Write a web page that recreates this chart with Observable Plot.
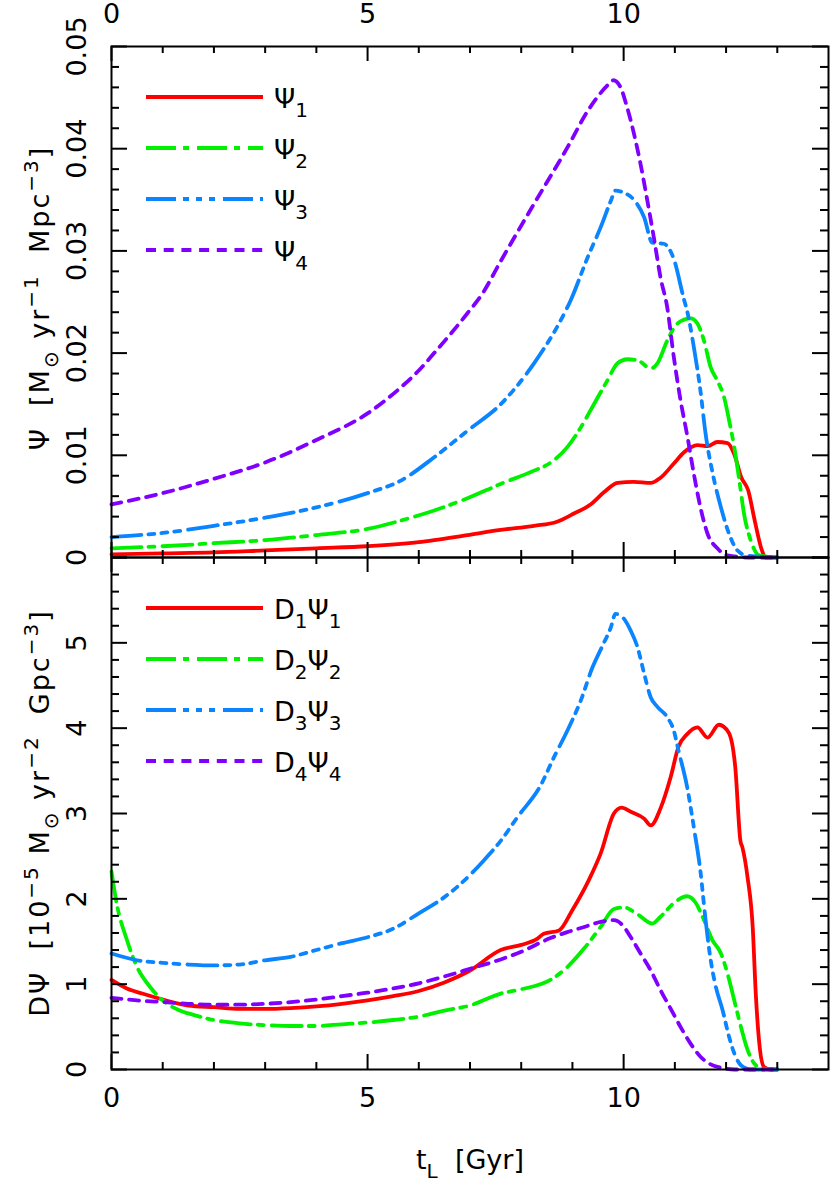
<!DOCTYPE html>
<html><head><meta charset="utf-8">
<script src="https://cdn.jsdelivr.net/npm/d3@7"></script>
<script src="https://cdn.jsdelivr.net/npm/@observablehq/plot@0.6"></script>
<style>
html,body{margin:0;padding:0;background:#fff;overflow:hidden}
#chart{position:relative;width:830px;height:1186px}
#chart svg.plot-panel{display:block;overflow:visible}
#overlay{position:absolute;left:0;top:0}
</style></head><body><div id="chart"></div>
<script>
// ---------------- data ----------------
const xTickLabels = [0, 5, 10];
const xMajorTicks = [0, 5, 10];
const xMinorTicks = [1, 2, 3, 4, 6, 7, 8, 9, 11, 12, 13];

const topYLabels = [0, 0.01, 0.02, 0.03, 0.04, 0.05];
const topYMajor = [0, 0.01, 0.02, 0.03, 0.04, 0.05];
const topYMinor = [0.002,0.004,0.006,0.008,0.012,0.014,0.016,0.018,0.022,0.024,0.026,0.028,0.032,0.034,0.036,0.038,0.042,0.044,0.046,0.048];

const botYLabels = [0, 1, 2, 3, 4, 5];
const botYMajor = [0, 1, 2, 3, 4, 5, 6];
const botYMinor = [0.2,0.4,0.6,0.8,1.2,1.4,1.6,1.8,2.2,2.4,2.6,2.8,3.2,3.4,3.6,3.8,4.2,4.4,4.6,4.8,5.2,5.4,5.6,5.8];

// top panel: Psi_i
const t_psi1 = [0,1,2,3,4,5,6,6.3,6.95,7.6,8.25,8.7,9.03,9.36,9.62,9.88,10.2,10.53,10.72,10.98,11.18,11.44,11.64,11.83,12.03,12.16,12.3,12.43,12.56,12.7,12.77,13.0];
const psi1   = [0.0003,0.0004,0.0005,0.0007,0.0009,0.0011,0.0015,0.0017,0.0022,0.0027,0.0031,0.0035,0.0043,0.0052,0.0064,0.0073,0.0074,0.0073,0.0078,0.0092,0.0103,0.0110,0.0109,0.0113,0.0112,0.0101,0.0078,0.0066,0.0036,0.0007,0,0];

const t_psi2 = [0,1,2,3,4,5,5.64,6.3,6.95,7.6,8.25,8.58,8.9,9.16,9.42,9.68,9.88,10.07,10.27,10.53,10.66,10.85,11.05,11.31,11.44,11.57,11.7,11.83,11.96,12.06,12.16,12.26,12.35,12.48,12.65,13.0];
const psi2   = [0.0009,0.0011,0.0014,0.0017,0.0022,0.0028,0.0036,0.0046,0.0058,0.0072,0.0085,0.0093,0.0108,0.0127,0.0150,0.0173,0.0190,0.0194,0.0193,0.0185,0.0190,0.0212,0.0229,0.0234,0.0229,0.0212,0.0186,0.0173,0.0157,0.0134,0.0108,0.0075,0.0043,0.0017,0.0002,0];

const t_psi3 = [0,1,2,3,4,5,5.64,6.3,6.95,7.6,8.25,8.77,8.96,9.3,9.55,9.75,9.84,10.0,10.2,10.4,10.56,10.78,10.98,11.17,11.25,11.37,11.5,11.6,11.74,11.9,12.06,12.22,12.4,13.0];
const psi3   = [0.0020,0.0024,0.0031,0.0039,0.0049,0.0063,0.0075,0.0098,0.0124,0.0150,0.0190,0.0232,0.0251,0.0294,0.0323,0.0349,0.0359,0.0357,0.0350,0.0333,0.0308,0.0307,0.0292,0.0254,0.0239,0.0206,0.0163,0.0121,0.0082,0.0049,0.0023,0.0007,0.0002,0];

const t_psi4 = [0,1,2,3,4,5,5.64,6.0,6.3,6.95,7.24,7.6,8.25,8.9,9.3,9.75,9.8,9.94,10.07,10.2,10.33,10.46,10.6,10.72,10.85,10.98,11.1,11.25,11.37,11.5,11.64,11.83,12.03,12.5,13.0];
const psi4   = [0.0052,0.0063,0.0077,0.0093,0.0115,0.0141,0.0166,0.0183,0.0200,0.0239,0.0258,0.0290,0.0346,0.0401,0.0437,0.0465,0.0467,0.0460,0.0440,0.0415,0.0385,0.0350,0.0310,0.0274,0.0245,0.0196,0.0157,0.0117,0.0082,0.0049,0.0023,0.0009,0.0002,0,0];

// bottom panel: D_i Psi_i  (units 1e-5)
const t_d1 = [0,0.3,0.6,1,1.5,2,2.5,3,3.5,4,4.5,5,5.5,6,6.5,7,7.6,8,8.31,8.44,8.74,9.0,9.32,9.55,9.81,9.96,10.14,10.4,10.53,10.72,10.92,11.07,11.24,11.44,11.64,11.86,12.05,12.18,12.28,12.32,12.42,12.52,12.58,12.65,12.74,12.87,13.0];
const d1   = [1.05,0.95,0.89,0.82,0.75,0.73,0.71,0.71,0.72,0.74,0.77,0.81,0.86,0.92,1.02,1.16,1.40,1.46,1.53,1.59,1.63,1.87,2.22,2.53,3.00,3.07,3.02,2.94,2.86,3.06,3.43,3.78,3.93,4.01,3.89,4.04,3.95,3.54,2.68,2.60,2.25,1.67,0.89,0.30,0.03,0,0];

const t_d2 = [0,0.1,0.3,0.5,0.75,1,1.3,1.6,2,2.5,3,3.5,4,4.5,5,5.5,6,6.5,7,7.6,8,8.57,8.9,9.23,9.55,9.81,10.0,10.27,10.56,10.72,10.98,11.24,11.4,11.57,11.73,11.9,12.03,12.16,12.29,12.42,12.55,12.71,13.0];
const d2   = [2.32,1.95,1.52,1.20,0.97,0.81,0.70,0.64,0.58,0.54,0.52,0.51,0.51,0.53,0.55,0.58,0.62,0.69,0.75,0.89,0.94,1.05,1.20,1.42,1.67,1.88,1.90,1.82,1.71,1.79,1.95,2.03,1.96,1.75,1.52,1.36,1.12,0.81,0.50,0.23,0.07,0.01,0];

const t_d3 = [0,0.5,1,1.5,2,2.5,3,3.5,4,4.5,5,5.5,6,6.5,6.88,7.27,7.6,7.93,8.38,8.64,8.9,9.16,9.39,9.59,9.75,9.84,9.98,10.14,10.27,10.4,10.53,10.66,10.85,10.98,11.07,11.24,11.37,11.5,11.6,11.7,11.8,11.93,12.06,12.16,12.29,12.48,13.0];
const d3v  = [1.36,1.28,1.25,1.23,1.22,1.23,1.28,1.32,1.40,1.48,1.55,1.65,1.83,2.02,2.21,2.45,2.68,2.96,3.33,3.66,3.97,4.32,4.71,4.97,5.18,5.34,5.30,5.14,4.95,4.64,4.36,4.25,4.13,3.97,3.74,3.31,2.84,2.32,1.75,1.28,0.97,0.70,0.38,0.19,0.05,0,0];

const t_d4 = [0,0.5,1,1.5,2,2.5,3,3.5,4,4.5,5,5.5,6,6.5,7,7.6,8,8.57,8.9,9.23,9.55,9.81,9.98,10.14,10.33,10.53,10.72,10.92,11.11,11.31,11.5,11.7,11.9,12.16,13.0];
const d4   = [0.84,0.81,0.79,0.77,0.76,0.76,0.77,0.79,0.82,0.86,0.90,0.95,1.01,1.09,1.18,1.29,1.38,1.54,1.61,1.67,1.73,1.75,1.69,1.55,1.36,1.16,0.93,0.71,0.50,0.30,0.15,0.06,0.02,0,0];

const seriesColors = ["#ff0000", "#00f000", "#0a84ff", "#7f00ff"];
const seriesDashes = [null, "30,7,6,8", "30,7,6,7,6,7,6,8", "10,7.7"];
const topLegend = [["Ψ", "1"], ["Ψ", "2"], ["Ψ", "3"], ["Ψ", "4"]];
const botLegend = [["D", "1", "Ψ", "1"], ["D", "2", "Ψ", "2"], ["D", "3", "Ψ", "3"], ["D", "4", "Ψ", "4"]];

// ---------------- layout ----------------
const FONT = "DejaVu Sans";
const FS = 27, SUBFS = 20;
const W = 830, ML = 111, MR = 2;
const LW = 3.8;

const zipT = (ts, vs) => ts.map((t, i) => ({t, v: vs[i]}));

function panel({height, marginTop, marginBottom, yDomain, series, yMinor, yMajor, yLabels, xAnchor, xDy}) {
  const innerH = height - marginTop - marginBottom;
  const innerW = W - ML - MR;
  const tick = {stroke: "black", strokeWidth: 2};
  const marks = [];
  series.forEach((s, i) => marks.push(Plot.line(s, {
    x: "t", y: "v", stroke: seriesColors[i], strokeWidth: LW, curve: "monotone-x",
    strokeDasharray: seriesDashes[i] || undefined, strokeLinejoin: "round"
  })));
  marks.push(
    Plot.ruleX(xMinorTicks, {x: d => d, insetTop: innerH - 7, ...tick}),
    Plot.ruleX(xMajorTicks, {x: d => d, insetTop: innerH - 15, ...tick}),
    Plot.ruleX(xMinorTicks, {x: d => d, insetBottom: innerH - 7, ...tick}),
    Plot.ruleX(xMajorTicks, {x: d => d, insetBottom: innerH - 15, ...tick}),
    Plot.ruleY(yMinor, {y: d => d, insetRight: innerW - 8, ...tick}),
    Plot.ruleY(yMajor, {y: d => d, insetRight: innerW - 16, ...tick}),
    Plot.ruleY(yMinor, {y: d => d, insetLeft: innerW - 8, ...tick}),
    Plot.ruleY(yMajor, {y: d => d, insetLeft: innerW - 16, ...tick}),
    Plot.frame({stroke: "black", strokeWidth: 2}),
    Plot.text(xTickLabels, {x: d => d, text: d => String(d), frameAnchor: xAnchor, dy: xDy,
      textAnchor: "middle", lineAnchor: "middle",
      fontSize: FS, fontFamily: FONT, fill: "black"}),
    Plot.text(yLabels, {y: d => d, text: d => String(d), frameAnchor: "left", dx: -34, rotate: -90,
      textAnchor: "middle", lineAnchor: "middle",
      fontSize: FS, fontFamily: FONT, fill: "black"})
  );
  const svg = Plot.plot({
    width: W, height, marginLeft: ML, marginRight: MR, marginTop, marginBottom,
    x: {domain: [0, 14], axis: null},
    y: {domain: yDomain, axis: null},
    style: {background: "none", overflow: "visible", fontFamily: FONT},
    marks
  });
  svg.classList.add("plot-panel");
  return svg;
}

const chart = document.getElementById("chart");
chart.appendChild(panel({
  height: 557, marginTop: 46, marginBottom: 0, yDomain: [0, 0.05],
  series: [zipT(t_psi1, psi1), zipT(t_psi2, psi2), zipT(t_psi3, psi3), zipT(t_psi4, psi4)],
  yMinor: topYMinor, yMajor: topYMajor, yLabels: topYLabels, xAnchor: "top", xDy: -32
}));
chart.appendChild(panel({
  height: 629, marginTop: 0, marginBottom: 117, yDomain: [0, 6],
  series: [zipT(t_d1, d1), zipT(t_d2, d2), zipT(t_d3, d3v), zipT(t_d4, d4)],
  yMinor: botYMinor, yMajor: botYMajor, yLabels: botYLabels, xAnchor: "bottom", xDy: 29
}));

// ---------------- overlay: titles & legends ----------------
const ov = d3.select(chart).append("svg").attr("id", "overlay")
  .attr("width", W).attr("height", 1186)
  .style("font-family", FONT).style("font-size", FS + "px");

function richText(txt, parts) {
  parts.forEach(([s, kind]) => {
    const ts = txt.append("tspan").text(s);
    if (kind === "sup") ts.attr("font-size", SUBFS).attr("baseline-shift", "11");
    else if (kind === "sub") ts.attr("font-size", SUBFS).attr("baseline-shift", "-9");
  });
}

const topTitle = ov.append("text").attr("text-anchor", "middle").attr("letter-spacing", 2)
  .attr("transform", "translate(49,298) rotate(-90)").attr("xml:space", "preserve");
richText(topTitle, [["Ψ  [M", "n"], ["⊙", "sub"], [" yr", "n"], ["−1", "sup"], ["  Mpc", "n"], ["−3", "sup"], ["]", "n"]]);

const botTitle = ov.append("text").attr("text-anchor", "middle").attr("letter-spacing", 2)
  .attr("transform", "translate(49,813) rotate(-90)").attr("xml:space", "preserve");
richText(botTitle, [["DΨ  [10", "n"], ["−5", "sup"], [" M", "n"], ["⊙", "sub"], [" yr", "n"], ["−2", "sup"], ["  Gpc", "n"], ["−3", "sup"], ["]", "n"]]);

const xTitle = ov.append("text").attr("text-anchor", "middle")
  .attr("x", 470).attr("y", 1169).attr("xml:space", "preserve");
richText(xTitle, [["t", "n"], ["L", "sub"], ["  [Gyr]", "n"]]);

function legend(rows, y0) {
  rows.forEach((parts, i) => {
    const y = y0 + i * 51;
    ov.append("line").attr("x1", 146).attr("x2", 263).attr("y1", y).attr("y2", y)
      .attr("stroke", seriesColors[i]).attr("stroke-width", LW)
      .attr("stroke-dasharray", seriesDashes[i] || null);
    const t = ov.append("text").attr("x", 274).attr("y", y + 11);
    richText(t, parts.map((p, j) => [p, j % 2 ? "sub" : "n"]));
  });
}
legend(topLegend, 97);
legend(botLegend, 608);
</script></body></html>
